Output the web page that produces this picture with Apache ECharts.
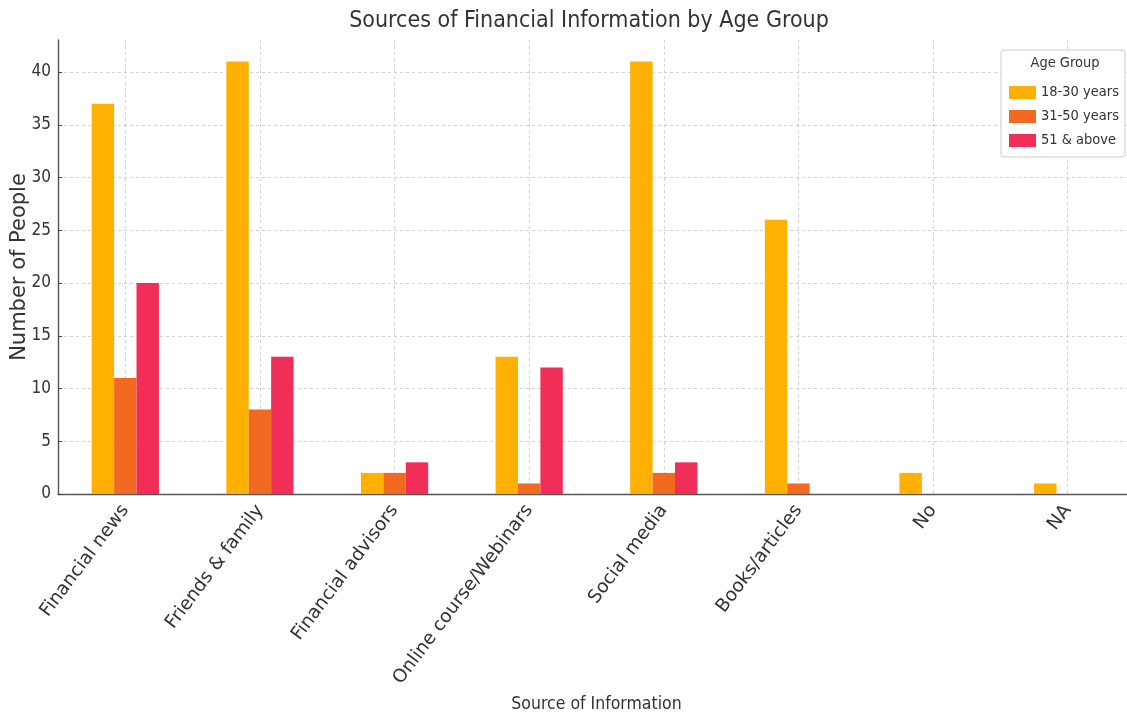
<!DOCTYPE html>
<html>
<head>
<meta charset="utf-8">
<script src="https://cdn.jsdelivr.net/npm/echarts@6/dist/echarts.min.js"></script>
<style>
  html, body { margin: 0; padding: 0; background: #ffffff; }
  #chart { width: 1127px; height: 715px; }
</style>
</head>
<body>
<div id="chart"></div>
<script>
// Survey: where each age group gets its financial information
const categories = ['Financial news', 'Friends & family', 'Financial advisors', 'Online course/Webinars',
                    'Social media', 'Books/articles', 'No', 'NA'];
const age18to30 = [37, 41, 2, 13, 41, 26, 2, 1];
const age31to50 = [11, 8, 2, 1, 2, 1, 0, 0];
const age51plus = [20, 13, 3, 12, 3, 0, 0, 0];
const seriesNames = ['18-30 years', '31-50 years', '51 & above'];
const seriesColors = ['#FFB000', '#F26A21', '#F02E58'];
const yMax = 40, yStep = 5, yAxisTop = 43;

const condensed = "'DejaVu Sans Condensed', 'DejaVu Sans', sans-serif";
const regular = "'DejaVu Sans', sans-serif";
const textColor = '#333333';
const spineColor = '#555555';
const gridStyle = { color: '#d2d2d2', width: 1, type: [3, 3] };

// helper axis whose points fall on band centres (odd indices) for vertical grid lines
const centreSlots = Array.from({ length: categories.length * 2 + 1 }, (_, i) => 'slot' + i);

const chart = echarts.init(document.getElementById('chart'), null, { renderer: 'canvas' });

chart.setOption({
  backgroundColor: '#ffffff',
  animation: false,
  title: {
    text: 'Sources of Financial Information by Age Group',
    left: 584,
    top: 5,
    textAlign: 'center',
    textStyle: { fontFamily: condensed, fontSize: 23, fontWeight: 'normal', color: textColor }
  },
  grid: [
    { left: 58, width: 1077, top: 40, bottom: 221, containLabel: false, outerBoundsMode: 'none' },
    { left: 58, width: 1077, top: 72, bottom: 221, containLabel: false, outerBoundsMode: 'none' }
  ],
  xAxis: [
    {
      type: 'category',
      gridIndex: 1,
      data: categories,
      axisLine: { lineStyle: { color: spineColor, width: 1.4 } },
      axisTick: { alignWithLabel: true, inside: true, length: 4, lineStyle: { color: '#444' } },
      axisLabel: { interval: 0, rotate: 53, margin: 13, fontSize: 18.5, fontFamily: regular, color: textColor },
      splitLine: { show: false },
      name: 'Source of Information',
      nameLocation: 'middle',
      nameGap: 199,
      nameTextStyle: { fontFamily: condensed, fontSize: 17.5, color: textColor }
    },
    {
      type: 'category',
      gridIndex: 0,
      boundaryGap: false,
      data: centreSlots,
      axisLine: { show: false },
      axisTick: { show: false },
      axisLabel: { show: false },
      splitLine: { show: true, interval: (i) => i % 2 === 1, lineStyle: gridStyle }
    }
  ],
  yAxis: [
    {
      type: 'value',
      gridIndex: 1,
      min: 0,
      max: yMax,
      interval: yStep,
      axisLine: { show: false },
      axisTick: { show: true, inside: true, length: 4, lineStyle: { color: '#444' } },
      axisLabel: { fontSize: 17, fontFamily: condensed, color: textColor, margin: 7 },
      splitLine: { show: true, lineStyle: gridStyle }
    },
    {
      type: 'value',
      gridIndex: 0,
      min: 0,
      max: yAxisTop,
      axisLine: { show: true, lineStyle: { color: spineColor, width: 1.4 } },
      axisTick: { show: false },
      axisLabel: { show: false },
      splitLine: { show: false },
      name: 'Number of People',
      nameLocation: 'middle',
      nameGap: 28,
      nameTextStyle: { fontFamily: regular, fontSize: 21, color: textColor }
    }
  ],
  legend: {
    orient: 'vertical',
    left: 1004,
    top: 80,
    icon: 'rect',
    itemWidth: 27,
    itemHeight: 13,
    itemGap: 9,
    z: 20,
    textStyle: { fontFamily: condensed, fontSize: 14.5, color: textColor },
    data: seriesNames
  },
  graphic: [
    {
      type: 'rect',
      z: 10,
      shape: { x: 1001, y: 50, width: 124, height: 107, r: 3 },
      style: { fill: '#ffffff', stroke: '#cccccc', lineWidth: 1 }
    },
    {
      type: 'text',
      z: 21,
      x: 1065,
      y: 63,
      style: { text: 'Age Group', fontFamily: condensed, fontSize: 14.5, fill: textColor,
               textAlign: 'center', textVerticalAlign: 'middle' }
    }
  ],
  series: [age18to30, age31to50, age51plus].map((values, k) => ({
    name: seriesNames[k],
    type: 'bar',
    xAxisIndex: 0,
    yAxisIndex: 0,
    data: values,
    clip: false,
    barWidth: 22.4,
    barGap: '0%',
    itemStyle: { color: seriesColors[k] }
  }))
});
</script>
</body>
</html>
